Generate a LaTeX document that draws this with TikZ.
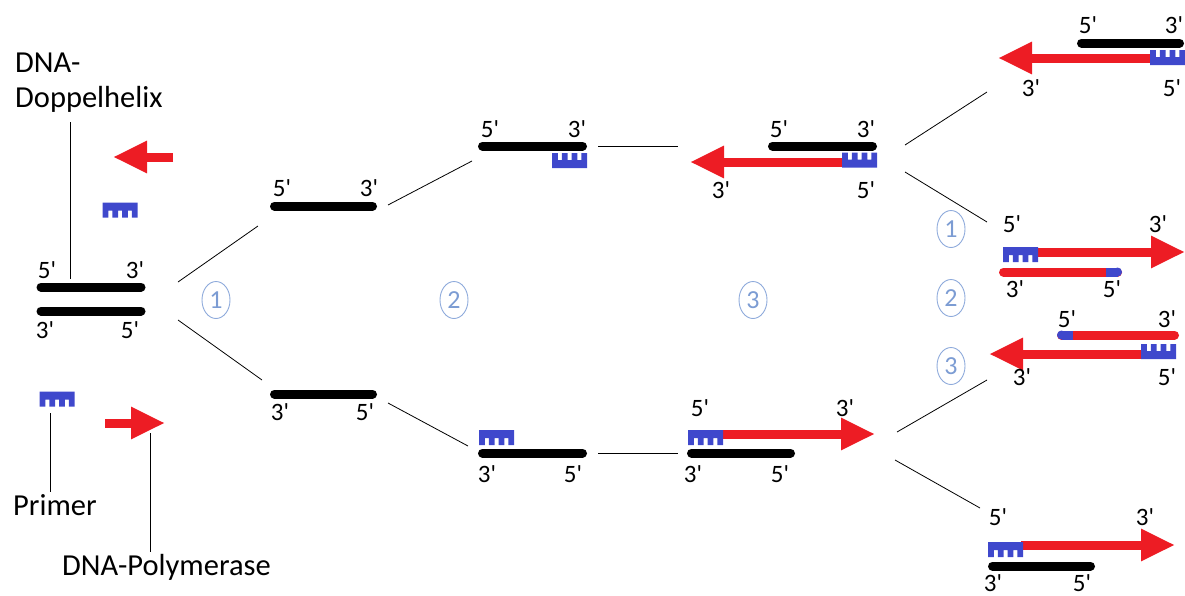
\documentclass[tikz,border=0pt]{standalone}
\usepackage{fontspec}
\setmainfont{Carlito}[Ligatures=TeXOff]
\usetikzlibrary{arrows.meta,shapes.geometric}
\definecolor{pred}{HTML}{ED1C24}
\definecolor{pblue}{HTML}{3F48CC}
\definecolor{cblue}{HTML}{8EAADB}
\definecolor{ctext}{HTML}{7C9CD3}
\begin{document}
\begin{tikzpicture}[x=1pt,y=-1pt,
  strand/.style={line width=9pt, line cap=round},
  rarrow/.style={draw=pred, line width=9pt, -{Triangle[length=34pt,width=30pt]}},
  rbar/.style={draw=pred, line width=9pt, line cap=round},
  conn/.style={draw=black, line width=0.8pt},
  lab/.style={font=\fontsize{30.5}{34}\selectfont, anchor=base west, inner sep=0pt},
  pr/.style={font=\fontsize{25}{28}\selectfont, anchor=base, inner sep=0pt},
  num/.style={ellipse, draw=cblue, line width=0.9pt, text=ctext, minimum width=28pt, minimum height=37pt, inner sep=0pt, font=\fontsize{26}{28}\selectfont},
  primer/.pic={\fill[pblue] (-17.5,-7.5) -- (17.5,-7.5) -- (17.5,7.5) -- (11.75,7.5) -- (11.75,0.5) -- (7.75,0.5) -- (7.75,7.5) -- (2,7.5) -- (2,0.5) -- (-2,0.5) -- (-2,7.5) -- (-7.75,7.5) -- (-7.75,0.5) -- (-11.75,0.5) -- (-11.75,7.5) -- (-17.5,7.5) -- cycle;}
]
\useasboundingbox (0,0) rectangle (1185,595);

% ---------- left: legend ----------
\node[lab] (tdna) at (15,72) {DNA-};
\node[lab] (tdop) at (15,107) {Doppelhelix};
\coordinate (ldop1) at (70,122);
\coordinate (ldop2) at (70,279);
\draw[conn] (ldop1) -- (ldop2);
\draw[rarrow] (173,157) -- (113,157);
\pic at (120,210) {primer};

\draw[strand] (41,287) -- (141,287);
\draw[strand] (41,311) -- (141,311);
\node[pr] (l5a) at (47,278) {5'};
\node[pr] (l3a) at (135,278) {3'};
\node[pr] (l3b) at (45,338) {3'};
\node[pr] (l5b) at (130,338) {5'};

\pic at (57,399) {primer};
\coordinate (lpr1) at (50,413);
\coordinate (lpr2) at (50,492);
\draw[conn] (lpr1) -- (lpr2);
\node[lab] (tprimer) at (13,515) {Primer};
\draw[rarrow] (105,423) -- (165,423);
\coordinate (lpol1) at (150,433);
\coordinate (lpol2) at (150,552);
\draw[conn] (lpol1) -- (lpol2);
\node[lab] (tpol) at (62,575) {DNA-Polymerase};

% ---------- connectors ----------
\coordinate (c1a) at (178,282); \coordinate (c1b) at (258,226);
\coordinate (c2a) at (178,320); \coordinate (c2b) at (262,380);
\coordinate (c3a) at (388,205); \coordinate (c3b) at (472,161);
\coordinate (c4a) at (388,403); \coordinate (c4b) at (468,446);
\coordinate (c5a) at (598,146); \coordinate (c5b) at (678,146);
\coordinate (c6a) at (598,453); \coordinate (c6b) at (678,453);
\coordinate (c7a) at (905,145); \coordinate (c7b) at (987,92);
\coordinate (c8a) at (905,172); \coordinate (c8b) at (987,222);
\coordinate (c9a) at (897,432); \coordinate (c9b) at (987,380);
\coordinate (c10a) at (895,460); \coordinate (c10b) at (980,508);
\foreach \a/\b in {c1a/c1b,c2a/c2b,c3a/c3b,c4a/c4b,c5a/c5b,c6a/c6b,c7a/c7b,c8a/c8b,c9a/c9b,c10a/c10b}
  \draw[conn] (\a) -- (\b);

% ---------- step numbers ----------
\node[num] (n1) at (216,300) {1};
\node[num] (n2) at (454,300) {2};
\node[num] (n3) at (753,300) {3};
\node[num] (r1) at (951,229) {1};
\node[num] (r2) at (951,298) {2};
\node[num] (r3) at (951,366) {3};

% ---------- after step 1 ----------
\draw[strand] (274.5,206) -- (372.5,206);
\node[pr] (a5) at (282,196) {5'};
\node[pr] (a3) at (369,196) {3'};
\draw[strand] (274.5,394) -- (372.5,394);
\node[pr] (b3) at (280,420) {3'};
\node[pr] (b5) at (365,420) {5'};

% ---------- after step 2 ----------
\draw[strand] (482.5,146) -- (582.5,146);
\pic[yscale=-1] at (569.5,160.5) {primer};
\node[pr] (c5) at (490,137) {5'};
\node[pr] (c3) at (577,137) {3'};
\draw[strand] (482.5,453) -- (582.5,453);
\pic at (496.5,437.5) {primer};
\node[pr] (d3) at (487,482) {3'};
\node[pr] (d5) at (573,482) {5'};

% ---------- after step 3 ----------
\draw[strand] (772.5,146) -- (872.5,146);
\draw[rarrow] (843,162) -- (690,162);
\pic[yscale=-1] at (859.5,160) {primer};
\node[pr] (e5) at (779,137) {5'};
\node[pr] (e3) at (866,137) {3'};
\node[pr] (e3b) at (721,198) {3'};
\node[pr] (e5b) at (866,198) {5'};

\draw[strand] (691.5,453) -- (790.5,453);
\draw[rarrow] (722,434) -- (875,434);
\pic at (705.5,437.5) {primer};
\node[pr] (f5) at (700,416) {5'};
\node[pr] (f3) at (845,416) {3'};
\node[pr] (f3b) at (693,482) {3'};
\node[pr] (f5b) at (780,482) {5'};

% ---------- right column ----------
% top
\draw[strand] (1081.5,43) -- (1179.5,43);
\draw[rarrow] (1153,58) -- (998,58);
\pic[yscale=-1] at (1167.5,57.5) {primer};
\node[pr] (g5) at (1088,33) {5'};
\node[pr] (g3) at (1174,33) {3'};
\node[pr] (g3b) at (1031,96) {3'};
\node[pr] (g5b) at (1172,96) {5'};

% second
\draw[rarrow] (1036,252) -- (1185,252);
\pic at (1020.5,254.5) {primer};
\draw[rbar] (1003.5,272) -- (1117.5,272);
\fill[pblue] (1106,267.5) rectangle (1117.5,276.5);
\fill[pblue] (1117.5,272) circle (4.5pt);
\node[pr] (h5) at (1012,232) {5'};
\node[pr] (h3) at (1158,232) {3'};
\node[pr] (h3b) at (1015,297) {3'};
\node[pr] (h5b) at (1112,297) {5'};

% third
\draw[rbar] (1061.5,335) -- (1174.5,335);
\fill[pblue] (1061.5,330.5) rectangle (1073,339.5);
\fill[pblue] (1061.5,335) circle (4.5pt);
\draw[rarrow] (1143,354) -- (989,354);
\pic[yscale=-1] at (1158.5,351.5) {primer};
\node[pr] (i5) at (1067,327) {5'};
\node[pr] (i3) at (1167,327) {3'};
\node[pr] (i3b) at (1022,385) {3'};
\node[pr] (i5b) at (1167,385) {5'};

% bottom
\draw[strand] (992.5,566) -- (1090.5,566);
\draw[rarrow] (1021,545) -- (1175,545);
\pic at (1005.5,549.5) {primer};
\node[pr] (j5) at (998,525) {5'};
\node[pr] (j3) at (1145,525) {3'};
\node[pr] (j3b) at (993,591) {3'};
\node[pr] (j5b) at (1082,591) {5'};
\end{tikzpicture}
\end{document}
